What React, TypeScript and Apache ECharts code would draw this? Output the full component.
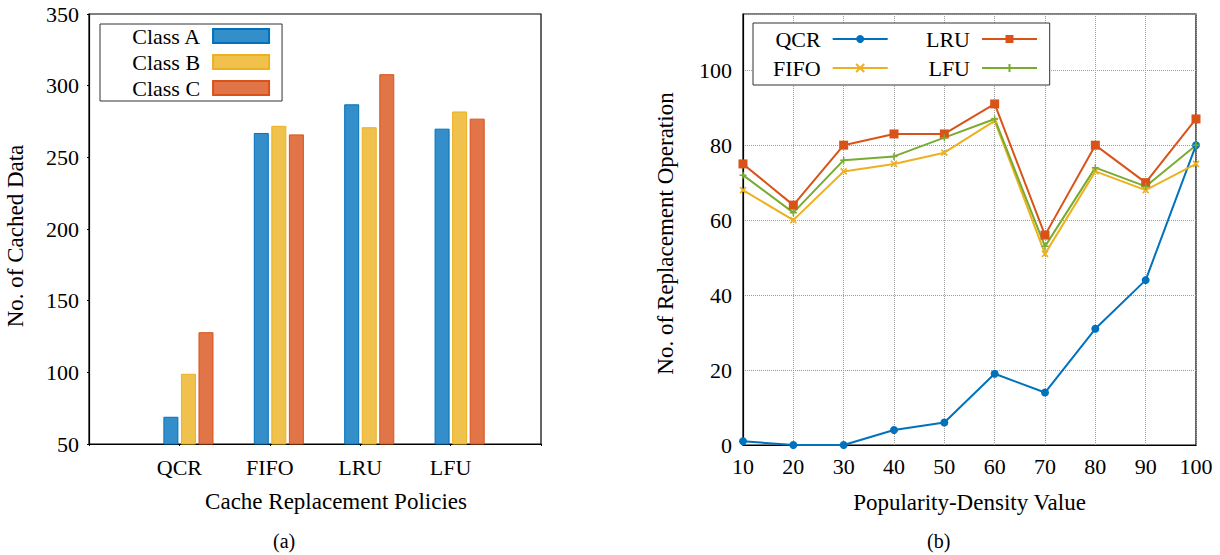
import React, { useEffect, useRef } from "react";
import * as echarts from "echarts";

const categories = ["QCR", "FIFO", "LRU", "LFU"];
const classA = [69, 267, 287, 270];
const classB = [99, 272, 271, 282];
const classC = [128, 266, 308, 277];

const densityValues = [10, 20, 30, 40, 50, 60, 70, 80, 90, 100];
const qcr = [1, 0, 0, 4, 6, 19, 14, 31, 44, 80];
const fifo = [68, 60, 73, 75, 78, 86.5, 51, 73, 68, 75];
const lru = [75, 64, 80, 83, 83, 91, 56, 80, 70, 87];
const lfu = [72, 62, 76, 77, 82, 87, 53, 74, 69, 80];

const FONT = "'Liberation Serif', 'Times New Roman', serif";
const BAR_OFFSET = 0.1;

const C_BLUE = "#0072BD";
const C_YELLOW = "#EDB120";
const C_RED = "#D95319";
const C_GREEN = "#77AC30";

export default function App() {
  const ref = useRef<HTMLDivElement>(null);

  useEffect(() => {
    document.body.style.margin = "0";
    const chart = echarts.init(ref.current!, null, { renderer: "svg" });

    const barSeries = (name: string, vals: number[], fill: string, edge: string) => ({
      name,
      type: "bar",
      xAxisIndex: 0,
      yAxisIndex: 0,
      barWidth: 15,
      barGap: "17%",
      data: vals.map((v, i) => [i + 1 + BAR_OFFSET, v]),
      itemStyle: { color: fill, borderColor: edge, borderWidth: 1 },
    });

    const lineSeries = (name: string, vals: number[], color: string, symbol: string, size: number, bw: number) => ({
      name,
      type: "line",
      xAxisIndex: 1,
      yAxisIndex: 1,
      data: densityValues.map((x, i) => [x, vals[i]]),
      symbol,
      symbolSize: size,
      showAllSymbol: true,
      lineStyle: { color, width: 2 },
      itemStyle: { color, borderColor: color, borderWidth: bw },
    });

    const textStyle = { fontFamily: FONT, fontSize: 22, color: "#000" };

    const option: any = {
      animation: false,
      backgroundColor: "#fff",
      textStyle: { fontFamily: FONT },
      grid: [
        { left: 89, top: 14, width: 452, height: 430, show: true, borderColor: "#000", borderWidth: 1.2, backgroundColor: "transparent" },
        { left: 743, top: 14, width: 453, height: 431, show: true, borderColor: "#000", borderWidth: 1.2, backgroundColor: "transparent" },
      ],
      xAxis: [
        {
          type: "value",
          gridIndex: 0,
          min: 0,
          max: 5,
          interval: 1,
          axisLine: { lineStyle: { color: "#000", width: 1.2 } },
          axisTick: { show: true, length: 2, lineStyle: { color: "#000" } },
          splitLine: { show: false },
          axisLabel: {
            ...textStyle,
            margin: 12,
            formatter: (v: number) => categories[Math.round(v) - 1] ?? "",
          },
          name: "Cache Replacement Policies",
          nameLocation: "middle",
          nameGap: 46,
          nameTextStyle: { ...textStyle, fontSize: 23, padding: [0, 0, 0, 42] },
        },
        {
          type: "value",
          gridIndex: 1,
          min: 10,
          max: 100,
          interval: 10,
          axisLine: { lineStyle: { color: "#000", width: 1.2 } },
          axisTick: { show: false },
          splitLine: { show: true, lineStyle: { type: "dotted", color: "#9a9a9a", width: 1 } },
          axisLabel: { ...textStyle, margin: 10 },
          name: "Popularity-Density Value",
          nameLocation: "middle",
          nameGap: 46,
          nameTextStyle: { ...textStyle, fontSize: 23 },
        },
      ],
      yAxis: [
        {
          type: "value",
          gridIndex: 0,
          min: 50,
          max: 350,
          interval: 50,
          axisLine: { show: true, lineStyle: { color: "#000", width: 1.2 } },
          axisTick: { show: true, length: 2, lineStyle: { color: "#000" } },
          splitLine: { show: false },
          axisLabel: { ...textStyle, margin: 10 },
          name: "No. of Cached Data",
          nameLocation: "middle",
          nameGap: 62,
          nameTextStyle: { ...textStyle, fontSize: 23, padding: [0, 14, 0, 0] },
        },
        {
          type: "value",
          gridIndex: 1,
          min: 0,
          max: 115,
          interval: 20,
          axisLine: { show: true, lineStyle: { color: "#000", width: 1.2 } },
          axisTick: { show: false },
          splitLine: { show: true, lineStyle: { type: "dotted", color: "#9a9a9a", width: 1 } },
          axisLabel: { ...textStyle, margin: 11, showMaxLabel: false },
          name: "No. of Replacement Operation",
          nameLocation: "middle",
          nameGap: 66,
          nameTextStyle: { ...textStyle, fontSize: 23, padding: [0, 8, 0, 0] },
        },
      ],
      legend: [
        {
          data: ["Class A", "Class B", "Class C"],
          orient: "vertical",
          align: "right",
          left: 100,
          top: 24,
          padding: [1, 12, 2, 31],
          itemGap: 4,
          itemWidth: 56,
          itemHeight: 14,
          icon: "rect",
          backgroundColor: "#fff",
          borderColor: "#333",
          borderWidth: 1,
          textStyle: { ...textStyle, lineHeight: 22, padding: [0, 8, 0, 0] },
        },
        {
          data: ["QCR", "FIFO"],
          orient: "vertical",
          align: "right",
          left: 753,
          top: 23,
          padding: [5, 161, 6, 20],
          itemGap: 7,
          itemWidth: 55,
          itemHeight: 10,
          backgroundColor: "#fff",
          borderColor: "#333",
          borderWidth: 1,
          textStyle: { ...textStyle, lineHeight: 22, padding: [0, 7, 0, 0] },
        },
        {
          data: ["LRU", "LFU"],
          orient: "vertical",
          align: "right",
          left: 926,
          top: 28,
          padding: 0,
          itemGap: 7,
          itemWidth: 55,
          itemHeight: 10,
          z: 6,
          textStyle: { ...textStyle, lineHeight: 22, padding: [0, 7, 0, 0] },
        },
      ],
      graphic: [
        { type: "text", left: 273, top: 531, style: { text: "(a)", font: `20px ${FONT}`, fill: "#000" } },
        { type: "text", left: 927, top: 531, style: { text: "(b)", font: `20px ${FONT}`, fill: "#000" } },
      ],
      series: [
        barSeries("Class A", classA, "#338ECA", C_BLUE),
        barSeries("Class B", classB, "#F0C14D", C_YELLOW),
        barSeries("Class C", classC, "#E17547", C_RED),
        lineSeries("QCR", qcr, C_BLUE, "circle", 8, 0),
        lineSeries("FIFO", fifo, C_YELLOW, "path://M0,0L10,10M0,10L10,0", 6, 1.6),
        lineSeries("LRU", lru, C_RED, "rect", 9, 0),
        lineSeries("LFU", lfu, C_GREEN, "path://M5,0L5,10M0,5L10,5", 7, 1.5),
      ],
    };

    chart.setOption(option);
    return () => chart.dispose();
  }, []);

  return <div ref={ref} style={{ width: 1220, height: 555 }} />;
}
